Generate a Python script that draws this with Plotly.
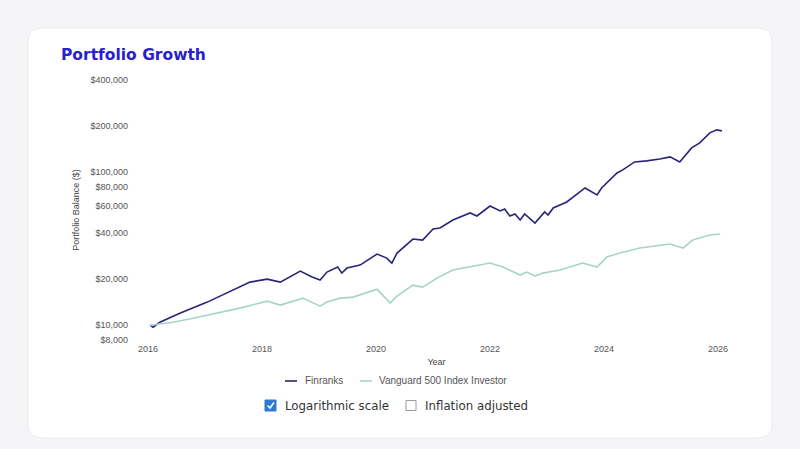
import plotly.graph_objects as go

# ---------------- data ----------------
finranks_dates = [
    "2016-01-14", "2016-02-03", "2016-03-17", "2016-07-23", "2017-01-15", "2017-05-23",
    "2017-10-16", "2018-02-03", "2018-04-28", "2018-09-03", "2018-11-18", "2019-01-08",
    "2019-02-21", "2019-05-01", "2019-05-27", "2019-06-29", "2019-09-21", "2020-01-08",
    "2020-03-10", "2020-04-12", "2020-05-15", "2020-08-25", "2020-10-26", "2021-01-01",
    "2021-02-14", "2021-05-08", "2021-08-26", "2021-10-09", "2022-01-01", "2022-03-07",
    "2022-04-05", "2022-05-08", "2022-06-10", "2022-07-13", "2022-08-11", "2022-10-16",
    "2022-12-17", "2023-01-08", "2023-02-10", "2023-05-08", "2023-09-02", "2023-11-18",
    "2023-12-17", "2024-03-25", "2024-05-01", "2024-07-16", "2024-10-01", "2024-12-24",
    "2025-02-28", "2025-05-01", "2025-07-16", "2025-09-06", "2025-11-10", "2025-12-24",
    "2026-01-26",
]
finranks_values = [
    10000, 9700, 10460, 11980, 14150, 16200,
    19110, 20000, 19110, 22560, 20620, 19700,
    22230, 23970, 21890, 23610, 24700, 29150,
    27450, 25460, 29600, 36550, 36000, 42490,
    43130, 48660, 54080, 51680, 60080, 55730,
    57430, 51680, 53250, 48660, 53250, 46510,
    54890, 52460, 58320, 63830, 78830, 70930,
    78830, 98810, 103400, 116600, 118400, 122000,
    125800, 116600, 144000, 155300, 180500, 188900,
    186100,
]

vanguard_dates = [
    "2016-01-14", "2016-06-10", "2016-10-16", "2017-03-18", "2017-08-11", "2018-02-03",
    "2018-04-28", "2018-09-20", "2019-01-08", "2019-02-21", "2019-05-16", "2019-08-08",
    "2020-01-08", "2020-01-26", "2020-04-01", "2020-05-15", "2020-08-25", "2020-10-26",
    "2021-01-26", "2021-05-08", "2022-01-01", "2022-03-25", "2022-07-13", "2022-08-25",
    "2022-10-16", "2022-12-06", "2023-03-25", "2023-08-18", "2023-11-18", "2024-01-19",
    "2024-04-12", "2024-08-18", "2024-12-24", "2025-02-28", "2025-05-22", "2025-07-23",
    "2025-11-10", "2026-01-15",
]
vanguard_values = [
    10000, 10460, 11110, 11980, 12920, 14360,
    13520, 15020, 13310, 14150, 15020, 15250,
    17200, 16440, 13930, 15480, 18270, 17730,
    20300, 22910, 25460, 23970, 21250, 22230,
    20930, 21890, 22910, 25460, 23970, 27860,
    29600, 31910, 33390, 33890, 31910, 36000,
    38820, 39400,
]

series_names = ["Finranks", "Vanguard 500 Index Investor"]
series_colors = ["#2a2478", "#a5d5ca"]

y_tick_values = [8000, 10000, 20000, 40000, 60000, 80000, 100000, 200000, 400000]
y_tick_labels = ["$8,000", "$10,000", "$20,000", "$40,000", "$60,000", "$80,000",
                 "$100,000", "$200,000", "$400,000"]
x_tick_values = ["2016-01-01", "2018-01-01", "2020-01-01", "2022-01-01", "2024-01-01", "2026-01-01"]
x_tick_labels = ["2016", "2018", "2020", "2022", "2024", "2026"]

# ---------------- layout geometry (pixels) ----------------
W, H = 800, 449
PL, PR, PT, PB = 148, 725, 80, 340  # plot area edges


def px(X):
    return (X - PL) / (PR - PL)


def py(Y):
    return (PB - Y) / (PB - PT)


fig = go.Figure()
fig.add_trace(go.Scatter(
    x=finranks_dates, y=finranks_values, mode="lines", name=series_names[0],
    line=dict(color=series_colors[0], width=1.6), showlegend=False,
))
fig.add_trace(go.Scatter(
    x=vanguard_dates, y=vanguard_values, mode="lines", name=series_names[1],
    line=dict(color=series_colors[1], width=1.6), showlegend=False,
))

shapes = []
# card background
x0, x1, y0, y1, r = 28, 772, 28, 438, 14
path = (f"M {px(x0 + r)},{py(y0)} L {px(x1 - r)},{py(y0)} "
        f"Q {px(x1)},{py(y0)} {px(x1)},{py(y0 + r)} L {px(x1)},{py(y1 - r)} "
        f"Q {px(x1)},{py(y1)} {px(x1 - r)},{py(y1)} L {px(x0 + r)},{py(y1)} "
        f"Q {px(x0)},{py(y1)} {px(x0)},{py(y1 - r)} L {px(x0)},{py(y0 + r)} "
        f"Q {px(x0)},{py(y0)} {px(x0 + r)},{py(y0)} Z")
shapes.append(dict(type="path", xref="paper", yref="paper", path=path,
                   fillcolor="white", line=dict(color="#ececf0", width=1), layer="below"))
# legend keys
legend_y = 381
for (lx0, lx1), color in zip([(285, 297), (360, 372)], series_colors):
    shapes.append(dict(type="line", xref="paper", yref="paper",
                       x0=px(lx0), x1=px(lx1), y0=py(legend_y), y1=py(legend_y),
                       line=dict(color=color, width=1.6)))
# checked checkbox
shapes.append(dict(type="rect", xref="paper", yref="paper",
                   x0=px(265), x1=px(276), y0=py(411), y1=py(400),
                   fillcolor="#2f78d0", line=dict(color="#2f78d0", width=1), layer="above"))
shapes.append(dict(type="path", xref="paper", yref="paper",
                   path=f"M {px(267.5)},{py(405.5)} L {px(270)},{py(408)} L {px(274)},{py(402.5)}",
                   line=dict(color="white", width=1.5), layer="above"))
# empty checkbox
shapes.append(dict(type="rect", xref="paper", yref="paper",
                   x0=px(406), x1=px(416), y0=py(410.5), y1=py(400.5),
                   fillcolor="white", line=dict(color="#9a9a9a", width=1), layer="above"))

annotations = [
    dict(text="Portfolio Growth", xref="paper", yref="paper", x=px(59), y=py(55),
         xanchor="left", yanchor="middle", showarrow=False,
         font=dict(family="DejaVu Sans", size=15.5, color="#2a1fcc", weight="bold")),
    dict(text="Logarithmic scale", xref="paper", yref="paper", x=px(283), y=py(405.5),
         xanchor="left", yanchor="middle", showarrow=False,
         font=dict(family="DejaVu Sans", size=11.8, color="#333333")),
    dict(text="Inflation adjusted", xref="paper", yref="paper", x=px(423), y=py(405.5),
         xanchor="left", yanchor="middle", showarrow=False,
         font=dict(family="DejaVu Sans", size=11.8, color="#333333")),
]
for tx, name in zip([303, 377], series_names):
    annotations.append(dict(text=name, xref="paper", yref="paper", x=px(tx), y=py(legend_y),
                            xanchor="left", yanchor="middle", showarrow=False,
                            font=dict(family="Liberation Sans", size=10, color="#555555")))

fig.update_layout(
    width=W, height=H,
    margin=dict(l=PL, r=W - PR, t=PT, b=H - PB, autoexpand=False),
    paper_bgcolor="#f5f5f7", plot_bgcolor="rgba(0,0,0,0)",
    font=dict(family="Liberation Sans, Arial, sans-serif", size=9, color="#555555"),
    showlegend=False,
    shapes=shapes, annotations=annotations,
    xaxis=dict(type="date", range=["2016-01-01", "2026-02-15"],
               tickvals=x_tick_values, ticktext=x_tick_labels,
               showgrid=False, zeroline=False, showline=False, ticks="",
               ticklabelstandoff=2,
               title=dict(text="Year", standoff=5, font=dict(size=9, color="#444444")),
               tickfont=dict(size=9, color="#555555")),
    yaxis=dict(type="log", range=[3.90309, 5.60206],
               tickvals=y_tick_values, ticktext=y_tick_labels,
               showgrid=False, zeroline=False, showline=False, ticks="",
               ticklabelstandoff=19,
               title=dict(text="Portfolio Balance ($)", standoff=9, font=dict(size=9, color="#444444")),
               tickfont=dict(size=9, color="#555555")),
)

fig.write_html("out.html")
